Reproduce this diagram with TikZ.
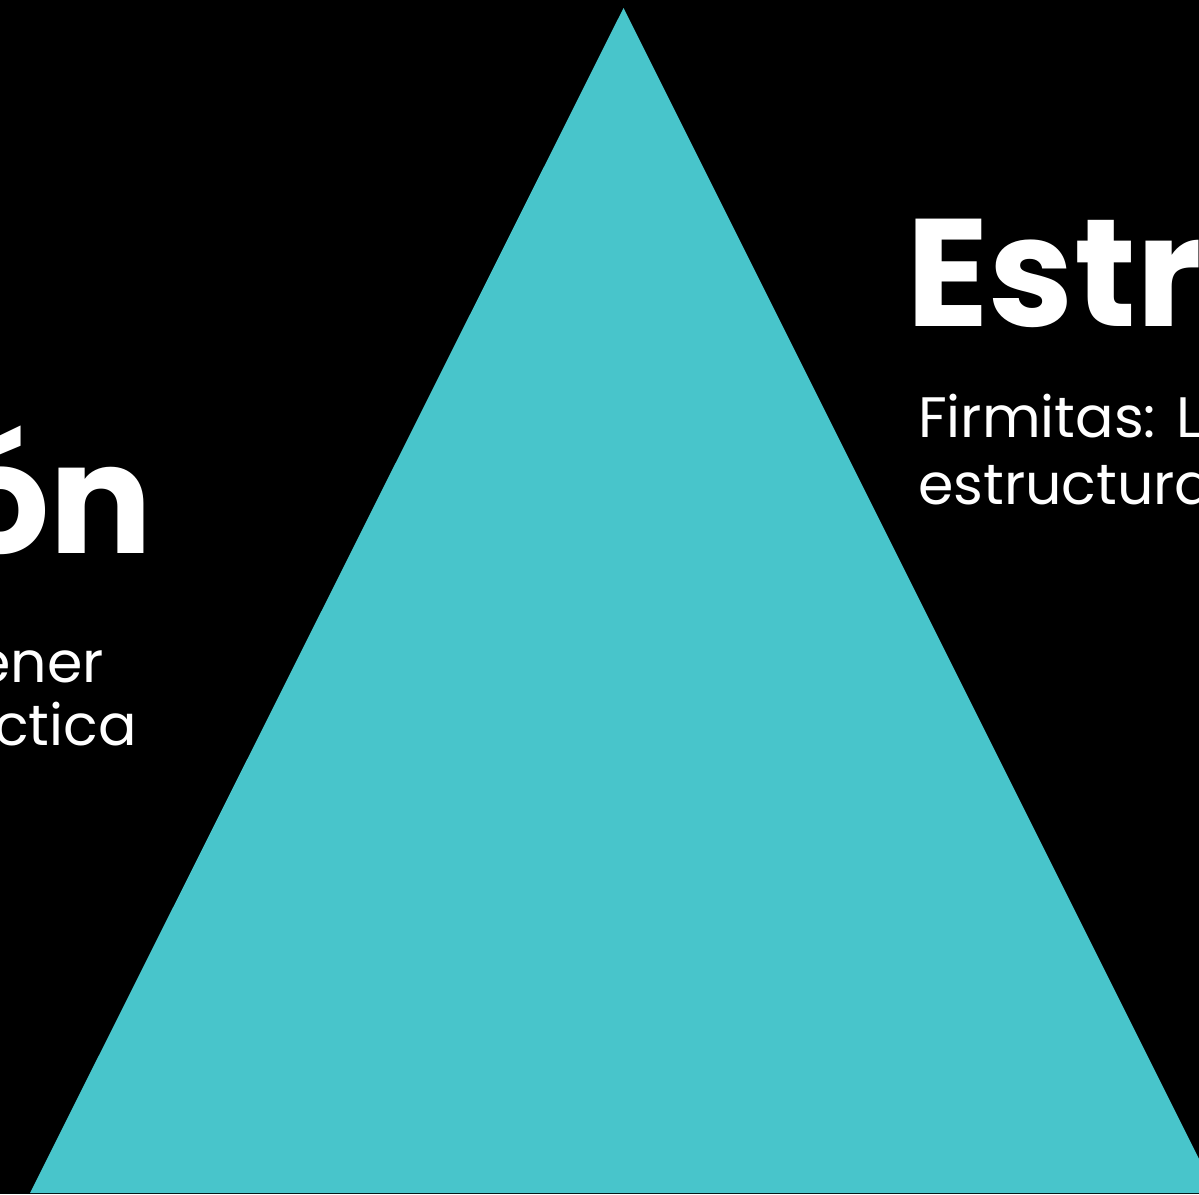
\documentclass[tikz,border=0pt]{standalone}
\usepackage{fontspec}
\setmainfont{Poppins}
\definecolor{teal1}{RGB}{72,197,203}
\begin{document}
\begin{tikzpicture}[x=1pt,y=-1pt,
  big/.style={text=white,font=\fontsize{153}{153}\selectfont\bfseries,inner sep=0pt},
  small/.style={text=white,font=\fontsize{57}{67}\selectfont,inner sep=0pt}]
\fill[black] (0,0) rectangle (1199,1194);
\useasboundingbox (0,0) rectangle (1199,1194);
\fill[teal1] (623.5,8) coordinate (apex) -- (30,1193) coordinate (bl) -- (1216,1193) coordinate (br) -- cycle;
\node[big,anchor=base west] (estr) at (906,326) {Estr};
\node[small,anchor=base west] (firm) at (918,437) {Firmitas: L};
\node[small,anchor=base west] (estruct) at (918,504) {estructura};
\node[big,anchor=base east] (on) at (153,553) {ón};
\node[small,anchor=base east] (ener) at (104,682) {ener};
\node[small,anchor=base east] (ctica) at (137,745) {ctica};
\end{tikzpicture}
\end{document}
